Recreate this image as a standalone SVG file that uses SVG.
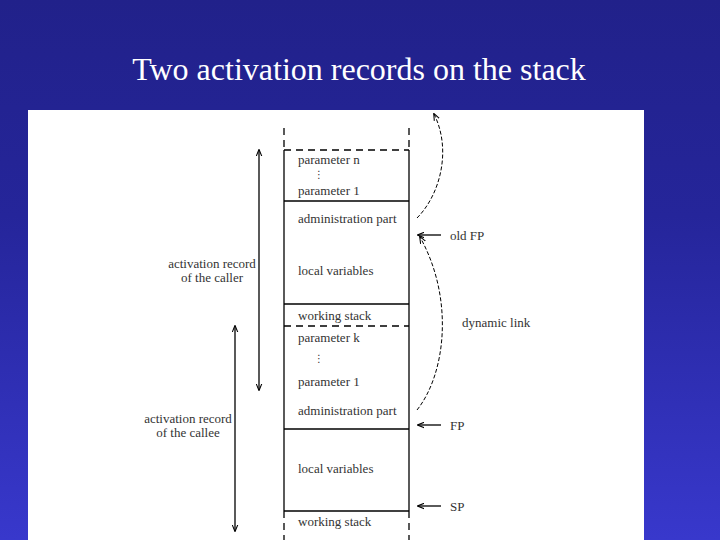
<svg xmlns="http://www.w3.org/2000/svg" width="720" height="540" viewBox="0 0 720 540">
<defs>
<linearGradient id="bg" x1="0" y1="0" x2="0" y2="1">
<stop offset="0" stop-color="#21218a"/>
<stop offset="0.4" stop-color="#25259a"/>
<stop offset="1" stop-color="#3838cc"/>
</linearGradient>
<marker id="ah" viewBox="0 0 10 10" refX="9" refY="5" markerWidth="7" markerHeight="7" orient="auto-start-reverse" markerUnits="userSpaceOnUse">
<path d="M0,1 L10,5 L0,9" fill="none" stroke="#000" stroke-width="1.5"/>
</marker>
</defs>
<style>
.lbl{font-family:"Liberation Serif",serif;font-size:13px;fill:#333}
.dots{font-family:"DejaVu Sans",sans-serif;font-size:10px;fill:#333}
.solid{stroke:#000;stroke-width:1.3;fill:none}
.dash{stroke:#000;stroke-width:1.3;fill:none;stroke-dasharray:7,5}
.curve{stroke:#000;stroke-width:1;fill:none;stroke-dasharray:4,2}
.arr{stroke:#000;stroke-width:1.3;fill:none}
</style>
<rect width="720" height="540" fill="url(#bg)"/>
<text x="359" y="80" text-anchor="middle" font-family="Liberation Serif,serif" font-size="32" fill="#fff">Two activation records on the stack</text>
<rect x="28" y="110" width="616" height="430" fill="#fff"/>

<g id="stack">
<line class="dash" x1="284" y1="128" x2="284" y2="150"/>
<line class="dash" x1="409" y1="128" x2="409" y2="150"/>
<line class="dash" x1="284" y1="150" x2="409" y2="150"/>
<line class="solid" x1="284" y1="150" x2="284" y2="511"/>
<line class="solid" x1="409" y1="150" x2="409" y2="511"/>
<line class="solid" x1="284" y1="201" x2="409" y2="201"/>
<line class="solid" x1="284" y1="304" x2="409" y2="304"/>
<line class="dash" x1="284" y1="326" x2="409" y2="326"/>
<line class="solid" x1="284" y1="429" x2="409" y2="429"/>
<line class="solid" x1="284" y1="511" x2="409" y2="511"/>
<line class="dash" x1="284" y1="511" x2="284" y2="540"/>
<line class="dash" x1="409" y1="511" x2="409" y2="540"/>
</g>

<g id="cells">
<text class="lbl" x="298" y="164">parameter n</text>
<text class="dots" x="314" y="178">⋮</text>
<text class="lbl" x="298" y="195">parameter 1</text>
<text class="lbl" x="298" y="223">administration part</text>
<text class="lbl" x="298" y="275">local variables</text>
<text class="lbl" x="298" y="320">working stack</text>
<text class="lbl" x="298" y="342">parameter k</text>
<text class="dots" x="314" y="362">⋮</text>
<text class="lbl" x="298" y="386">parameter 1</text>
<text class="lbl" x="298" y="415">administration part</text>
<text class="lbl" x="298" y="473">local variables</text>
<text class="lbl" x="298" y="526">working stack</text>
</g>

<g id="caller">
<line class="arr" x1="259" y1="390" x2="259" y2="150" marker-start="url(#ah)" marker-end="url(#ah)"/>
<text class="lbl" x="212" y="268" text-anchor="middle">activation record</text>
<text class="lbl" x="212" y="282" text-anchor="middle">of the caller</text>
</g>

<g id="callee">
<line class="arr" x1="235" y1="531" x2="235" y2="326" marker-start="url(#ah)" marker-end="url(#ah)"/>
<text class="lbl" x="188" y="423" text-anchor="middle">activation record</text>
<text class="lbl" x="188" y="437" text-anchor="middle">of the callee</text>
</g>

<g id="pointers">
<line class="arr" x1="441" y1="235" x2="418" y2="235" marker-end="url(#ah)"/>
<text class="lbl" x="450" y="240">old  FP</text>
<line class="arr" x1="441" y1="425" x2="418" y2="425" marker-end="url(#ah)"/>
<text class="lbl" x="450" y="430">FP</text>
<line class="arr" x1="441" y1="506" x2="418" y2="506" marker-end="url(#ah)"/>
<text class="lbl" x="450" y="511">SP</text>
<text class="lbl" x="462" y="327">dynamic link</text>
</g>

<g id="connectors">
<path class="curve" d="M417,218 C440,195 452,150 434,114" marker-end="url(#ah)"/>
<path class="curve" d="M417,410 C445,375 455,300 420,237" marker-end="url(#ah)"/>
</g>
</svg>
